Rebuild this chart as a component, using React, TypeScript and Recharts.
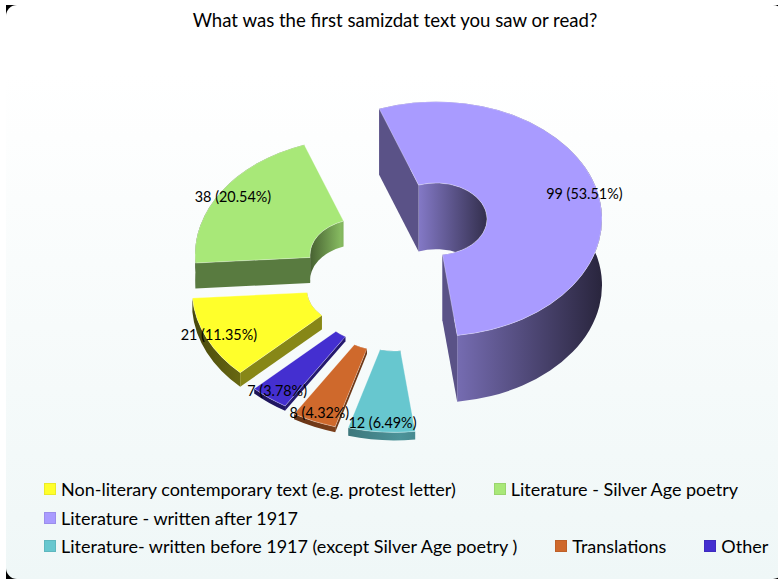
import { Legend, Pie, PieChart } from 'recharts';

const categories = [
  'Non-literary contemporary text (e.g. protest letter)',
  'Literature - Silver Age poetry',
  'Literature - written after 1917',
  'Literature- written before 1917 (except Silver Age poetry )',
  'Translations',
  'Other',
];
const values = [21, 38, 99, 12, 8, 7];
const colours = ['#ffff2b', '#a8e878', '#a99bff', '#67c7cf', '#cf692c', '#442fd0'];

// how far each slice is pulled out of the ring, in pixels
const shiftX = [-35, -32, 43, 1, -12, -21];
const shiftY = [30, -5, -41, 55, 54, 46];

const WIDTH = 778;
const HEIGHT = 579;
const TILT = 0.707;
const DEPTH_PER_UNIT = 0.67;
const FONT = '"Lato", sans-serif';

const tableData = categories.map((name, i) => ({ name, value: values[i], fill: colours[i] }));

const rad = (deg: number) => (deg * Math.PI) / 180;

function shade(hex: string, k: number) {
  const n = parseInt(hex.slice(1), 16);
  const part = (v: number) => Math.round(v * k);
  return `rgb(${part((n >> 16) & 255)},${part((n >> 8) & 255)},${part(n & 255)})`;
}

function SliceShape(props: any) {
  const { cx, cy, innerRadius, outerRadius, startAngle, endAngle, fill, value, index } = props;
  const x0 = cx + shiftX[index];
  const y0 = cy + shiftY[index];
  const depth = value * DEPTH_PER_UNIT;
  const pt = (deg: number, r: number, dy = 0) =>
    `${x0 + r * Math.cos(rad(deg))} ${y0 - r * TILT * Math.sin(rad(deg)) + dy}`;
  const large = Math.abs(endAngle - startAngle) > 180 ? 1 : 0;
  const arc = (r: number, to: number, sweep: number, dy = 0) =>
    `A ${r} ${r * TILT} 0 ${large} ${sweep} ${pt(to, r, dy)}`;

  const top = `M ${pt(startAngle, outerRadius)} ${arc(outerRadius, endAngle, 1)} L ${pt(endAngle, innerRadius)} ${arc(innerRadius, startAngle, 0)} Z`;
  const ribbon = (r: number) =>
    `M ${pt(startAngle, r)} ${arc(r, endAngle, 1)} L ${pt(endAngle, r, depth)} ${arc(r, startAngle, 0, depth)} Z`;
  const edge = (deg: number) =>
    `M ${pt(deg, outerRadius)} L ${pt(deg, innerRadius)} L ${pt(deg, innerRadius, depth)} L ${pt(deg, outerRadius, depth)} Z`;

  // a cut face only shows when it turns towards the viewer
  const startVisible = Math.cos(rad(startAngle)) < 0;
  const endVisible = Math.cos(rad(endAngle)) > 0;

  return (
    <g>
      <defs>
        <linearGradient id={`outer-${index}`} gradientUnits="userSpaceOnUse" x1={x0 - outerRadius} x2={x0 + outerRadius} y1={0} y2={0}>
          <stop offset="0" stopColor={shade(fill, 0.28)} />
          <stop offset="0.52" stopColor={shade(fill, 0.74)} />
          <stop offset="1" stopColor={shade(fill, 0.24)} />
        </linearGradient>
        <linearGradient id={`inner-${index}`} gradientUnits="userSpaceOnUse" x1={x0 - innerRadius} x2={x0 + innerRadius} y1={0} y2={0}>
          <stop offset="0" stopColor={shade(fill, 0.42)} />
          <stop offset="0.3" stopColor={shade(fill, 0.8)} />
          <stop offset="1" stopColor={shade(fill, 0.3)} />
        </linearGradient>
      </defs>
      <path d={ribbon(outerRadius)} fill={`url(#outer-${index})`} />
      <path d={ribbon(innerRadius)} fill={`url(#inner-${index})`} />
      {startVisible && <path d={edge(startAngle)} fill={shade(fill, 0.53)} />}
      {endVisible && <path d={edge(endAngle)} fill={shade(fill, 0.53)} />}
      <path d={top} fill={fill} stroke="rgba(255,255,255,0.45)" strokeWidth={0.7} />
    </g>
  );
}

function SliceLabel(props: any) {
  const { cx, cy, midAngle, outerRadius, value, percent, index } = props;
  const r = outerRadius * 0.92;
  const x = cx + shiftX[index] + r * Math.cos(rad(midAngle));
  const y = cy + shiftY[index] - r * TILT * Math.sin(rad(midAngle));
  return (
    <text x={x} y={y} textAnchor="middle" dominantBaseline="central" fontSize={14.4} fontFamily={FONT} fill="#000">
      {`${value} (${(percent * 100).toFixed(2)}%)`}
    </text>
  );
}

function LegendRows({ payload }: any) {
  return (
    <div style={{ display: 'flex', flexWrap: 'wrap', columnGap: 38, rowGap: 8.5, width: 730, fontFamily: FONT, fontSize: 18 }}>
      {(payload || []).map((item: any) => (
        <div key={item.value} style={{ display: 'flex', alignItems: 'center', height: 20, color: '#000' }}>
          <span style={{ width: 12, height: 12, background: item.color, marginRight: 5, border: '1px solid rgba(0,0,0,0.08)', boxSizing: 'border-box' }} />
          {item.value}
        </div>
      ))}
    </div>
  );
}

export default function App() {
  return (
    <div style={{ position: 'fixed', left: 0, top: 0, width: WIDTH, height: HEIGHT, background: '#fff' }}>
      {/* black shows only in the corners of the rounded panel */}
      <div style={{ position: 'absolute', left: 6, top: 5, width: 772, height: 574, background: '#000', overflow: 'hidden' }}>
        <div
          style={{
            width: 778,
            height: 574,
            borderRadius: 11,
            background: 'linear-gradient(180deg, #ffffff 0%, #ffffff 12%, #eff7f7 100%)',
          }}
        />
      </div>
      <div style={{ position: 'absolute', left: 0, top: 0 }}>
        <PieChart width={WIDTH} height={HEIGHT} margin={{ top: 0, right: 0, bottom: 0, left: 0 }}>
          <text x={395} y={20} textAnchor="middle" dominantBaseline="central" fontSize={18.6} fontFamily={FONT} fill="#000">
            What was the first samizdat text you saw or read?
          </text>
          <Pie
            data={tableData}
            dataKey="value"
            nameKey="name"
            cx={393}
            cy={260}
            innerRadius={51}
            outerRadius={166}
            startAngle={-135.2}
            endAngle={-495.2}
            stroke="none"
            isAnimationActive={false}
            shape={SliceShape}
            label={SliceLabel}
            labelLine={false}
          />
          <Legend
            content={<LegendRows />}
            itemSorter={null}
            layout="horizontal"
            verticalAlign="bottom"
            wrapperStyle={{ position: 'absolute', left: 44, top: 479, bottom: 'auto', width: 730 }}
          />
        </PieChart>
      </div>
    </div>
  );
}
